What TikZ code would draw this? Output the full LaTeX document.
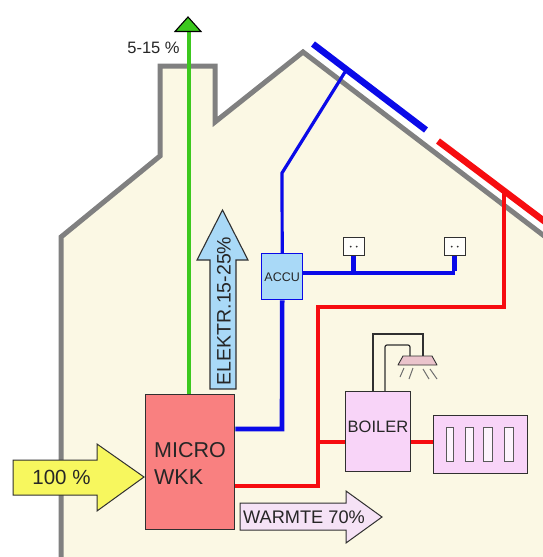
\documentclass[tikz,border=0pt]{standalone}
\usepackage{fontspec}
\setmainfont{Liberation Sans}
\usetikzlibrary{calc}
\definecolor{cream}{HTML}{FBF8E4}
\definecolor{wallgray}{HTML}{808080}
\definecolor{pipered}{HTML}{F60D10}
\definecolor{wireblue}{HTML}{0A0AE8}
\definecolor{skyfill}{HTML}{A9D9F7}
\definecolor{microfill}{HTML}{F98080}
\definecolor{lilac}{HTML}{F8D4F8}
\definecolor{lilacpale}{HTML}{F5E2F6}
\definecolor{arrowyellow}{HTML}{F7F75E}
\definecolor{fluegreen}{HTML}{3CC81E}
\definecolor{inkdark}{HTML}{303030}
\definecolor{lampfill}{HTML}{EBC4CC}
\tikzset{
  box/.style={draw=inkdark,line width=1.4pt,inner sep=0pt,anchor=north west},
  wall/.style={draw=wallgray,line width=5pt,miter limit=10},
  panelblue/.style={draw=wireblue,line width=6.5pt},
  panelred/.style={draw=pipered,line width=6.5pt},
  bluethick/.style={draw=wireblue,line width=4.6pt},
  bluethin/.style={draw=wireblue,line width=3.2pt},
  redthick/.style={draw=pipered,line width=4.5pt},
  redthin/.style={draw=pipered,line width=3.3pt},
  lampwire/.style={draw=inkdark,line width=1.2pt},
  ray/.style={draw=inkdark!70,line width=1pt},
  slot/.style={draw=inkdark!80,line width=1pt,fill=white!75!lilac,inner sep=0pt,anchor=north west},
  arrowline/.style={draw=inkdark,line width=1.1pt,line join=miter},
  lbl/.style={inner sep=0pt,text=black!85}
}
\begin{document}
\begin{tikzpicture}[x=1pt,y=-1pt]
\useasboundingbox (0,0) rectangle (543,557);
\clip (0,0) rectangle (543,557);
\fill[white] (0,0) rectangle (543,557);
% house
\fill[cream] (61,557) -- (61,237) -- (160,156) -- (160,66) -- (215,66) -- (215,122) -- (303,52) -- (560,248) -- (560,557) -- cycle;
\draw[wall] (61,560) -- (61,237) -- (160,156) -- (160,66) -- (215,66) -- (215,122) -- (303,52) -- (560,248);
% panels
\coordinate (bluepanelA) at (313,44);
\coordinate (bluepanelB) at (426,130);
\coordinate (redpanelA) at (438,141);
\coordinate (redpanelB) at (552,227);
\draw[panelblue] (bluepanelA) -- (bluepanelB);
\draw[panelred] (redpanelA) -- (redpanelB);
\coordinate (bluetap) at (345,72);
\coordinate (redtap) at (504,191);
% boxes
\node[box,fill=microfill,minimum width=89pt,minimum height=135pt] (micro) at (145,394) {};
\node[lbl,font=\fontsize{21.5}{26}\selectfont,align=left,anchor=west] (microlabel) at (154,463) {MICRO\\[1pt]WKK};
\node[draw=wireblue,line width=1.4pt,fill=skyfill,inner sep=0pt,anchor=north west,minimum width=41pt,minimum height=46pt,font=\fontsize{12.5}{15}\selectfont,text=black!85] (accu) at (261,253) {ACCU};
\node[box,fill=lilac,minimum width=65pt,minimum height=80pt] (boiler) at (345,391) {};
\node[lbl,font=\fontsize{16.5}{20}\selectfont] (boilerlabel) at (378,426.5) {BOILER};
\node[box,fill=lilac,minimum width=94pt,minimum height=58pt] (radiator) at (433,415) {};
\node[slot,minimum width=7pt,minimum height=34pt] (slota) at (446,427) {};
\node[slot,minimum width=8pt,minimum height=34pt] (slotb) at (465,427) {};
\node[slot,minimum width=9pt,minimum height=34pt] (slotc) at (483,427) {};
\node[slot,minimum width=9pt,minimum height=34pt] (slotd) at (504,427) {};
% sockets
\node[box,fill=white!85!cream,minimum width=21pt,minimum height=18pt] (socketa) at (342.5,237) {};
\node[box,fill=white!85!cream,minimum width=21pt,minimum height=18pt] (socketb) at (443.5,237) {};
\fill[inkdark] ($(socketa.center)+(-3,0)$) circle (1pt) ($(socketa.center)+(3,0)$) circle (1pt);
\fill[inkdark] ($(socketb.center)+(-3,0)$) circle (1pt) ($(socketb.center)+(3,0)$) circle (1pt);
% blue wiring
\coordinate (accutop) at (accu.north);
\coordinate (accubot) at (accu.south);
\coordinate (blueelbow) at (282,173);
\coordinate (bluefoot) at (282,429);
\coordinate (sockline) at (400,273);
\coordinate (sockjoin) at (socketa.south |- sockline);
\coordinate (sockend) at (socketb.south |- sockline);
\draw[bluethin] (bluetap) -- (blueelbow) -- (accutop);
\draw[bluethick] (micro.east |- bluefoot) -- (bluefoot) -- (accubot);
\draw[bluethin] (accu.east |- sockline) -- (sockend);
\draw[bluethick] (sockjoin) -- (socketa.south);
\draw[bluethick] ([yshift=1.6pt]sockend) -- (socketb.south);
% red piping
\coordinate (redcorner) at (504,307);
\coordinate (redleft) at (318,307);
\coordinate (redlow) at (318,486);
\coordinate (redbranch) at (318,442);
\draw[redthin] (redtap) -- (redcorner) -- (redleft) -- (redbranch);
\draw[redthick] (redbranch) -- (redlow) -- (micro.east |- redlow);
\draw[redthick] (redbranch) -- (boiler.west |- redbranch);
\draw[redthick] (boiler.east |- redbranch) -- (radiator.west |- redbranch);
% lamp
\coordinate (outerA) at (373,334);
\coordinate (outerB) at (423,334);
\coordinate (innerA) at (385,345);
\coordinate (innerB) at (410,345);
\fill[lampfill,draw=inkdark,line width=0.9pt,line join=round] (403,356) -- (432,356) -- (437,365) -- (398,365) -- cycle;
\draw[lampwire] (boiler.north -| outerA) -- (outerA) -- (outerB) -- (423,356);
\draw[lampwire,rounded corners=2pt] (boiler.north -| innerA) -- (innerA) -- (innerB) -- (410,356);
\draw[ray] (404,368) -- (400,377);
\draw[ray] (413,368) -- (409,379);
\draw[ray] (423,369) -- (429,379);
\draw[ray] (430,369) -- (437,379);
% flue
\coordinate (flueTip) at (189,31);
\draw[draw=fluegreen,line width=3.5pt] (micro.north -| flueTip) -- (flueTip);
\filldraw[draw=black,line width=1.1pt,fill=fluegreen,line join=miter] (175,31.5) -- (201,31.5) -- (188,17) -- cycle;
\node[lbl,font=\fontsize{16.5}{20}\selectfont] (flueLabel) at (153.5,48) {5-15 \%};
% block arrows
\draw[arrowline,fill=skyfill] (210,389) -- (236,389) -- (236,260) -- (248,260) -- (222.5,210) -- (197,260) -- (210,260) -- cycle;
\node[lbl,rotate=90,font=\fontsize{19.5}{24}\selectfont] (elektr) at (224,311) {ELEKTR.15-25\%};
\draw[draw=inkdark,line width=1pt,fill=arrowyellow] (13,460) -- (97,460) -- (97,444) -- (144,477) -- (97,511) -- (97,495) -- (13,495) -- cycle;
\node[lbl,font=\fontsize{20.5}{25}\selectfont] (hundred) at (61.5,477) {100 \%};
\draw[draw=inkdark,line width=1pt,fill=lilacpale] (240,503) -- (346,503) -- (346,491) -- (382,517) -- (346,543) -- (346,530) -- (240,530) -- cycle;
\node[lbl,font=\fontsize{18.2}{22}\selectfont] (warmte) at (304,517) {WARMTE 70\%};
\end{tikzpicture}
\end{document}
